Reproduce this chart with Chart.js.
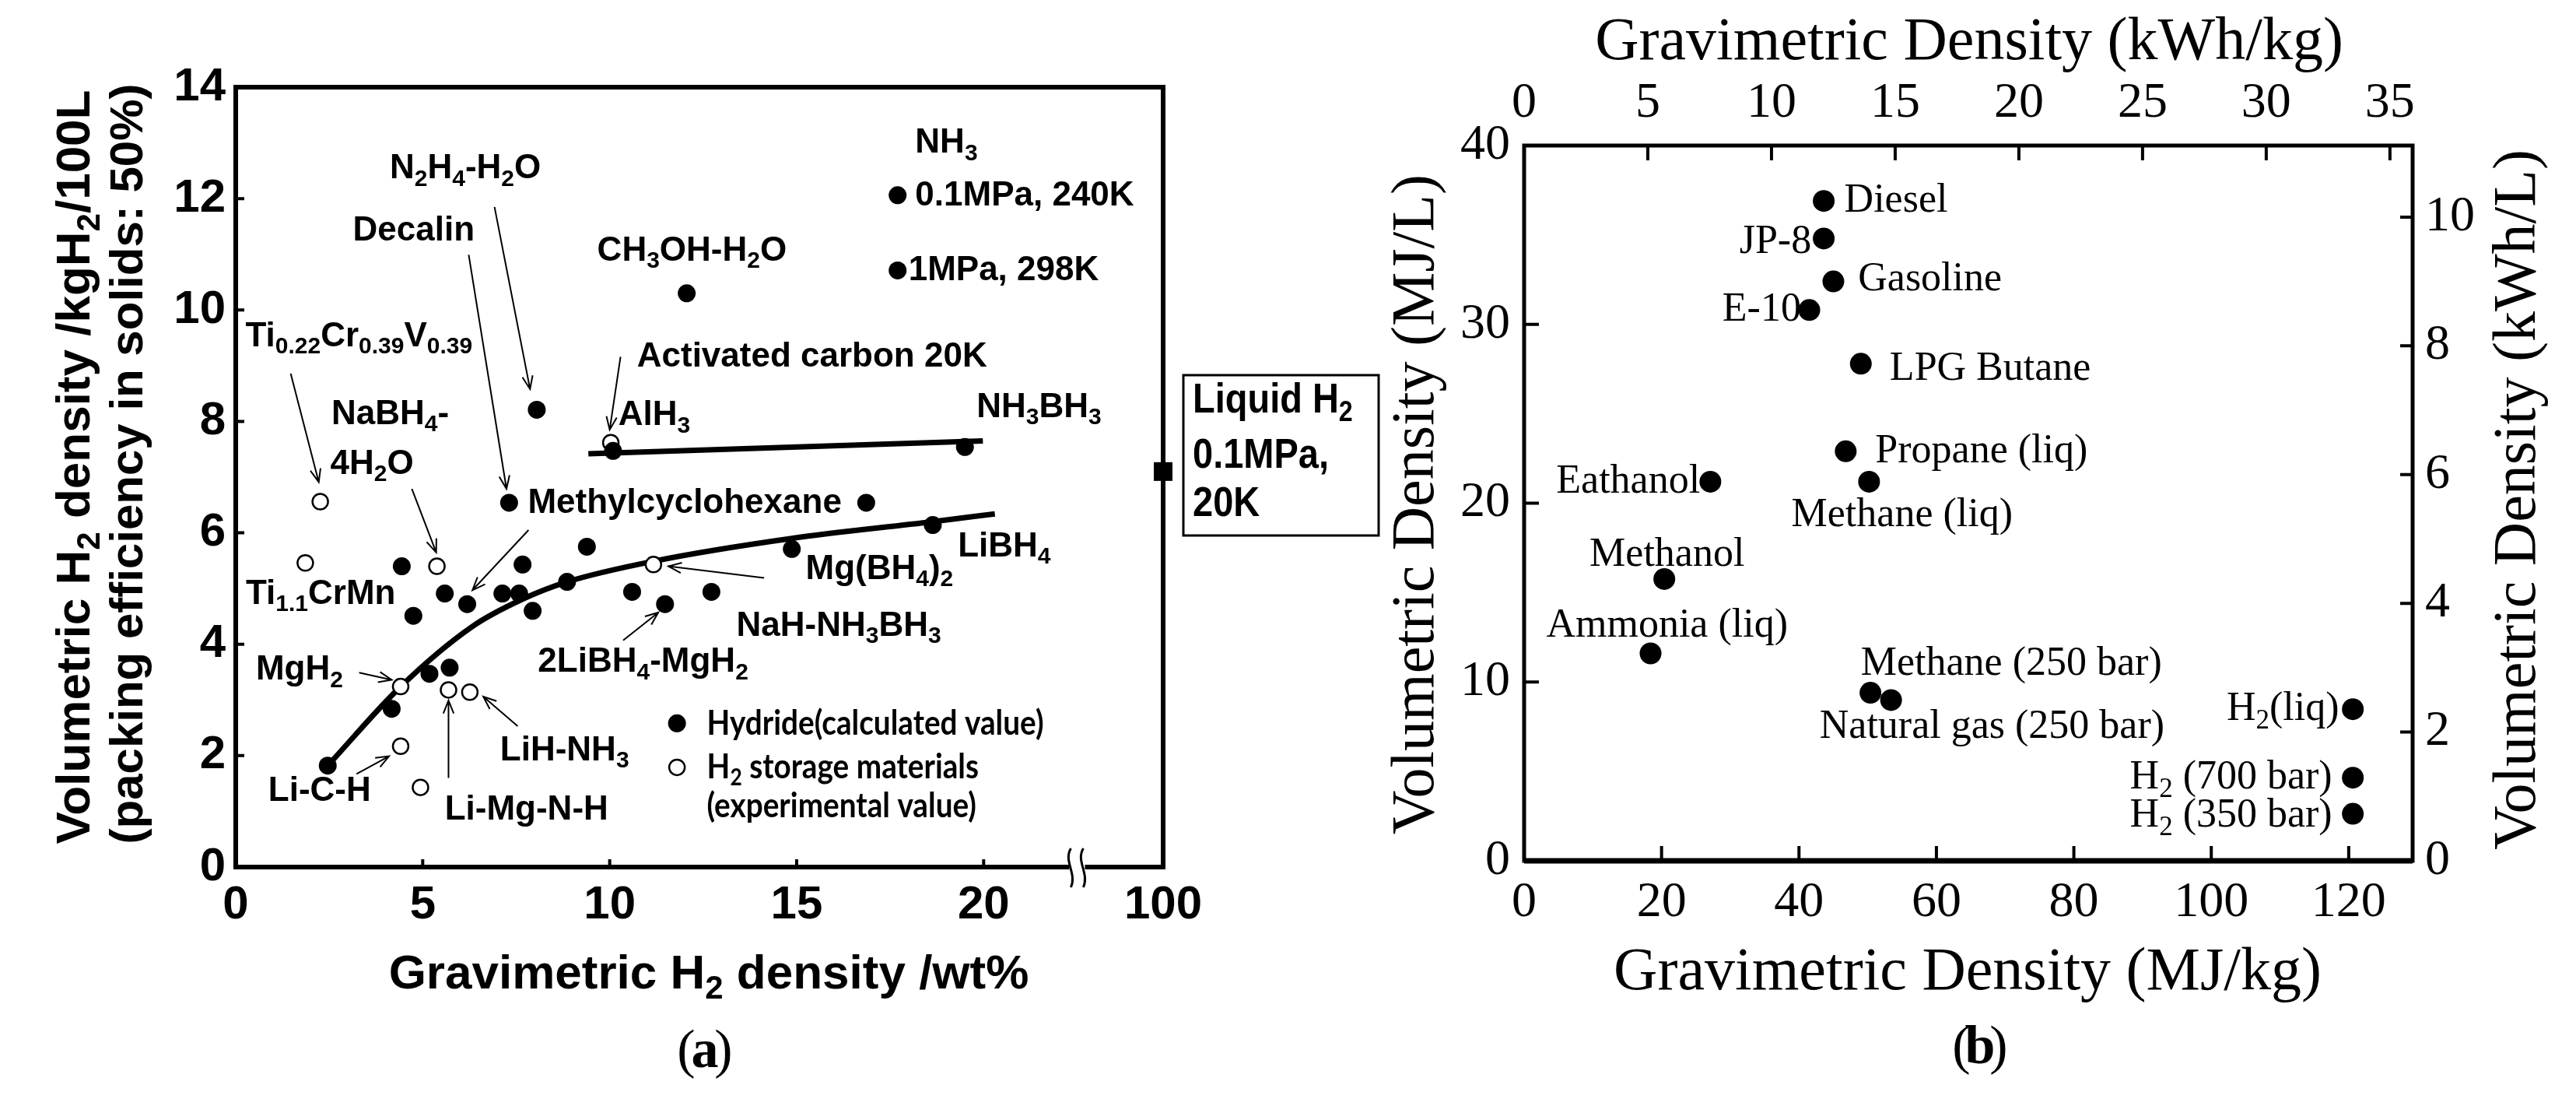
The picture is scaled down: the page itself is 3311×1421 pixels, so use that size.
<!DOCTYPE html>
<html>
<head>
<meta charset="utf-8">
<script src="https://cdn.jsdelivr.net/npm/chart.js@4.4.1/dist/chart.umd.min.js"></script>
<style>
  html, body { margin: 0; padding: 0; background: #fff; }
  body { width: 3311px; height: 1421px; position: relative; overflow: hidden; }
  #wrapA { position: absolute; left: 0; top: 0; width: 1790px; height: 1421px; }
  #wrapB { position: absolute; left: 1720px; top: 0; width: 1591px; height: 1421px; }
</style>
</head>
<body>
<div id="wrapA"><canvas id="chartA" width="1790" height="1421"></canvas></div>
<div id="wrapB"><canvas id="chartB" width="1591" height="1421"></canvas></div>
<script>
// ---- (a) hydrogen storage materials ----
// hydrides, calculated values (wt%, kgH2/100L)
const hydrideWt  = [2.46, 4.17, 5.18, 5.72, 4.44, 4.75, 5.59, 6.19, 7.13, 7.58, 7.67, 7.94, 8.86, 9.39,
                    7.31, 8.05, 10.09, 10.6, 11.48, 12.72, 14.87, 16.86, 18.64, 12.06, 17.7, 17.7, 19.5];
const hydrideVol = [1.82, 2.84, 3.47, 3.58, 5.40, 4.51, 4.91, 4.72, 4.91, 4.91, 5.43, 4.60, 5.12, 5.75,
                    6.54, 8.21, 7.47, 4.94, 4.72, 4.94, 5.71, 6.54, 6.14, 10.30, 12.06, 10.71, 7.54];
// H2 storage materials, experimental values
const storageWt  = [2.26, 1.86, 5.38, 4.41, 5.69, 6.26, 4.41, 4.94, 11.17, 10.03];
const storageVol = [6.56, 5.46, 5.40, 3.24, 3.18, 3.14, 2.17, 1.43, 5.43, 7.62];
// trend curve through the hydrides
const trendWt  = [2.46, 4.41, 6.33, 7.67, 8.86, 11.17, 14.87, 18.64, 20.3];
const trendVol = [1.82, 3.24, 4.32, 4.81, 5.12, 5.49, 5.90, 6.20, 6.34];
// AlH3 - NH3BH3 line
const nh3bh3Wt  = [9.43, 19.98];
const nh3bh3Vol = [7.42, 7.65];
// liquid hydrogen (beyond the axis break)
const liquidH2Wt  = [100];
const liquidH2Vol = [7.1];
const wtTicks  = [0, 5, 10, 15, 20, 100];
const volTicks = [0, 2, 4, 6, 8, 10, 12, 14];

// ---- (b) fuels ----
const fuelNames = ['Diesel', 'JP-8', 'Gasoline', 'E-10', 'LPG Butane', 'Propane (liq)', 'Eathanol',
                   'Methane (liq)', 'Methanol', 'Ammonia (liq)', 'Methane (250 bar)', 'Natural gas (250 bar)',
                   'H_2(liq)', 'H_2 (700 bar)', 'H_2 (350 bar)'];
const fuelMJkg = [43.6, 43.6, 45.0, 41.5, 49.0, 46.8, 27.1, 50.2, 20.4, 18.4, 50.4, 53.4, 120.6, 120.6, 120.6];
const fuelMJL  = [36.9, 34.8, 32.4, 30.8, 27.8, 22.9, 21.2, 21.2, 15.76, 11.6, 9.4, 8.99, 8.48, 4.65, 2.63];
const mjkgTicks  = [0, 20, 40, 60, 80, 100, 120];
const kwhkgTicks = [0, 5, 10, 15, 20, 25, 30, 35];
const mjlTicks   = [0, 10, 20, 30, 40];
const kwhlTicks  = [0, 2, 4, 6, 8, 10];

const SANS = 'Liberation Sans, Arial, Helvetica, sans-serif';
const SERIF = 'Liberation Serif, Times New Roman, serif';
const X_END = 24.8, BREAK_AT = 22.5;       // broken wt% axis: 100 sits at the right edge
const toAxis = wt => (wt > BREAK_AT ? X_END : wt);
const MJKG_MAX = 129.3, MJL_MAX = 40;

// label text, anchor (wt%, vol), alignment
const labelsA = [
  ['N_2H_4-H_2O', 6.14, 12.53, 'center'],
  ['Decalin', 4.76, 11.42, 'center'],
  ['CH_3OH-H_2O', 12.2, 11.06, 'center'],
  ['NH_3', 18.17, 12.99, 'left'],
  ['0.1MPa, 240K', 18.17, 12.05, 'left'],
  ['1MPa, 298K', 17.99, 10.71, 'left'],
  ['Ti_{0.22}Cr_{0.39}V_{0.39}', 0.26, 9.52, 'left'],
  ['Activated carbon 20K', 10.73, 9.16, 'left'],
  ['AlH_3', 10.23, 8.1, 'left'],
  ['NH_3BH_3', 19.81, 8.25, 'left'],
  ['NaBH_4-', 2.56, 8.12, 'left'],
  ['4H_2O', 2.53, 7.23, 'left'],
  ['Methylcyclohexane', 7.81, 6.53, 'left'],
  ['Ti_{1.1}CrMn', 0.27, 4.89, 'left'],
  ['MgH_2', 0.54, 3.53, 'left'],
  ['Li-C-H', 0.87, 1.36, 'left'],
  ['Li-Mg-N-H', 5.59, 1.02, 'left'],
  ['LiH-NH_3', 7.07, 2.09, 'left'],
  ['2LiBH_4-MgH_2', 8.08, 3.67, 'left'],
  ['NaH-NH_3BH_3', 13.39, 4.32, 'left'],
  ['Mg(BH_4)_2', 15.24, 5.34, 'left'],
  ['LiBH_4', 19.31, 5.75, 'left']
];
// arrows: from -> to (wt%, vol)
const arrowsA = [
  [6.92, 11.85, 7.87, 8.58],
  [6.23, 10.99, 7.24, 6.79],
  [1.47, 8.86, 2.22, 6.91],
  [10.29, 9.16, 10.0, 7.85],
  [4.71, 6.79, 5.36, 5.65],
  [7.83, 6.05, 6.33, 4.97],
  [3.3, 3.49, 4.17, 3.36],
  [3.23, 1.67, 4.1, 1.99],
  [5.69, 1.6, 5.69, 2.99],
  [7.54, 2.53, 6.62, 3.06],
  [10.36, 4.07, 11.3, 4.57],
  [14.13, 5.19, 11.57, 5.40]
];
// label placement for panel (b): anchor (MJ/kg, MJ/L), alignment
const labelPosB = [
  [46.6, 36.9, 'left'], [41.8, 34.6, 'right'], [48.6, 32.5, 'left'], [40.3, 30.8, 'right'],
  [53.2, 27.5, 'left'], [51.1, 22.9, 'left'], [25.6, 21.2, 'right'], [55.0, 19.3, 'center'],
  [20.8, 17.07, 'center'], [20.8, 13.13, 'center'], [49.0, 11.0, 'left'], [43.0, 7.47, 'left'],
  [118.6, 8.48, 'right'], [117.6, 4.65, 'right'], [117.6, 2.53, 'right']
];

// text with subscripts written as _x or _{xyz}
function parseRich(str) {
  const parts = [];
  const re = /_\{([^}]*)\}|_(.)|([^_]+)/g;
  let m;
  while ((m = re.exec(str))) {
    if (m[3] !== undefined) parts.push({ t: m[3], sub: false });
    else parts.push({ t: m[1] !== undefined ? m[1] : m[2], sub: true });
  }
  return parts;
}

function drawRich(ctx, str, x, y, o) {
  const parts = parseRich(str);
  const w8 = o.weight || 'normal';
  const big = `${w8} ${o.size}px ${o.family}`;
  const small = `${w8} ${Math.round(o.size * 0.68)}px ${o.family}`;
  let total = 0;
  parts.forEach(p => { ctx.font = p.sub ? small : big; p.w = ctx.measureText(p.t).width; total += p.w; });
  let cx = o.align === 'right' ? -total : o.align === 'center' ? -total / 2 : 0;
  ctx.save();
  ctx.translate(x, y);
  if (o.rotate) ctx.rotate(o.rotate);
  ctx.scale(o.hscale || 1, 1);
  ctx.fillStyle = '#000';
  ctx.textBaseline = 'middle';
  ctx.textAlign = 'left';
  parts.forEach(p => {
    ctx.font = p.sub ? small : big;
    ctx.fillText(p.t, cx, p.sub ? o.size * 0.3 : 0);
    cx += p.w;
  });
  ctx.restore();
}

function arrow(ctx, x1, y1, x2, y2) {
  const a = Math.atan2(y2 - y1, x2 - x1), h = 18, s = 0.38;
  ctx.beginPath();
  ctx.moveTo(x1, y1);
  ctx.lineTo(x2, y2);
  ctx.moveTo(x2 - h * Math.cos(a - s), y2 - h * Math.sin(a - s));
  ctx.lineTo(x2, y2);
  ctx.lineTo(x2 - h * Math.cos(a + s), y2 - h * Math.sin(a + s));
  ctx.stroke();
}

function innerTicks(ctx, scale, values, len, side) {
  const { left, right, top, bottom } = scale.chart.chartArea;
  ctx.beginPath();
  values.forEach(v => {
    const p = scale.getPixelForValue(v);
    if (side === 'left') { ctx.moveTo(left, p); ctx.lineTo(left + len, p); }
    if (side === 'right') { ctx.moveTo(right, p); ctx.lineTo(right - len, p); }
    if (side === 'top') { ctx.moveTo(p, top); ctx.lineTo(p, top + len); }
    if (side === 'bottom') { ctx.moveTo(p, bottom); ctx.lineTo(p, bottom - len); }
  });
  ctx.stroke();
}

function panelLetter(ctx, letter, x, y) {
  ctx.textAlign = 'center'; ctx.textBaseline = 'middle'; ctx.fillStyle = '#000';
  ctx.font = '70px ' + SERIF;
  ctx.fillText('(', x - 24, y);
  ctx.fillText(')', x + 24, y);
  ctx.font = 'bold 70px ' + SERIF;
  ctx.fillText(letter, x, y);
}

const panelA = {
  id: 'panelA',
  beforeDatasetsDraw(chart) {
    const { ctx, chartArea: a, scales: { x, y } } = chart;
    ctx.save();
    ctx.strokeStyle = '#000';
    ctx.lineWidth = 6;
    ctx.strokeRect(a.left, a.top, a.right - a.left, a.bottom - a.top);
    ctx.lineWidth = 4;
    innerTicks(ctx, y, volTicks.slice(1, -1), 11, 'left');
    innerTicks(ctx, x, wtTicks.slice(1, -1), 10, 'bottom');
    // axis break on the wt% axis
    const xb = x.getPixelForValue(BREAK_AT);
    ctx.fillStyle = '#fff';
    ctx.fillRect(xb - 10, a.bottom - 5, 20, 10);
    ctx.lineWidth = 3;
    [-8, 8].forEach(d => {
      ctx.beginPath();
      ctx.moveTo(xb + d, a.bottom - 24);
      ctx.bezierCurveTo(xb + d - 10, a.bottom - 8, xb + d + 8, a.bottom + 8, xb + d, a.bottom + 26);
      ctx.stroke();
    });
    ctx.restore();
  },
  afterDraw(chart) {
    const { ctx, scales: { x, y } } = chart;
    ctx.save();
    ctx.strokeStyle = '#000';
    ctx.lineWidth = 2;
    arrowsA.forEach(([x1, y1, x2, y2]) =>
      arrow(ctx, x.getPixelForValue(x1), y.getPixelForValue(y1), x.getPixelForValue(x2), y.getPixelForValue(y2)));
    labelsA.forEach(([t, lx, ly, al]) =>
      drawRich(ctx, t, x.getPixelForValue(lx), y.getPixelForValue(ly),
        { size: 44, family: SANS, weight: 'bold', align: al }));

    // legend
    const lx = x.getPixelForValue(11.8), tx = x.getPixelForValue(12.6);
    const ly = [2.58, 1.79, 1.09].map(v => y.getPixelForValue(v));
    ctx.fillStyle = '#000';
    ctx.beginPath(); ctx.arc(lx, ly[0], 11.5, 0, Math.PI * 2); ctx.fill();
    ctx.fillStyle = '#fff'; ctx.lineWidth = 2.5;
    ctx.beginPath(); ctx.arc(lx, ly[1], 10, 0, Math.PI * 2); ctx.fill(); ctx.stroke();
    const lg = { size: 44, family: 'Lato, ' + SANS, weight: 'bold', align: 'left', hscale: 0.88 };
    drawRich(ctx, 'Hydride(calculated value)', tx, ly[0], lg);
    drawRich(ctx, 'H_2 storage materials', tx, ly[1], lg);
    drawRich(ctx, '(experimental value)', tx, ly[2], lg);

    // liquid hydrogen box
    ctx.lineWidth = 3;
    ctx.strokeRect(1521, 482, 251, 206);
    const bx = { size: 54, family: SANS, weight: 'bold', align: 'left', hscale: 0.87 };
    drawRich(ctx, 'Liquid H_2', 1533, 515, bx);
    drawRich(ctx, '0.1MPa,', 1533, 586, bx);
    drawRich(ctx, '20K', 1533, 648, bx);

    // axis titles
    const tf = { size: 62, family: SANS, weight: 'bold', align: 'center' };
    drawRich(ctx, 'Gravimetric H_2 density /wt%', 911, 1253, tf);
    drawRich(ctx, 'Volumetric H_2 density /kgH_2/100L', 98, 600, { ...tf, rotate: -Math.PI / 2 });
    drawRich(ctx, '(packing efficiency in solids: 50%)', 166, 596, { ...tf, size: 60, rotate: -Math.PI / 2 });
    panelLetter(ctx, 'a', 906, 1353);
    ctx.restore();
  }
};

const panelB = {
  id: 'panelB',
  beforeDatasetsDraw(chart) {
    const { ctx, chartArea: a, scales } = chart;
    ctx.save();
    ctx.strokeStyle = '#000';
    ctx.lineWidth = 5;
    ctx.strokeRect(a.left, a.top, a.right - a.left, a.bottom - a.top);
    ctx.lineWidth = 7;
    ctx.beginPath(); ctx.moveTo(a.left, a.bottom); ctx.lineTo(a.right, a.bottom); ctx.stroke();
    ctx.lineWidth = 4;
    innerTicks(ctx, scales.x, mjkgTicks.slice(1), 19, 'bottom');
    innerTicks(ctx, scales.x2, kwhkgTicks.slice(1), 19, 'top');
    innerTicks(ctx, scales.y, mjlTicks.slice(1, -1), 19, 'left');
    innerTicks(ctx, scales.y2, kwhlTicks.slice(1), 16, 'right');
    ctx.restore();
  },
  afterDraw(chart) {
    const { ctx, scales: { x, y } } = chart;
    ctx.save();
    fuelNames.forEach((name, i) => {
      const [lx, ly, al] = labelPosB[i];
      drawRich(ctx, name, x.getPixelForValue(lx), y.getPixelForValue(ly), { size: 52, family: SERIF, align: al });
    });
    const tf = { size: 78, family: SERIF, align: 'center' };
    drawRich(ctx, 'Gravimetric Density (kWh/kg)', 811, 56, tf);
    drawRich(ctx, 'Gravimetric Density (MJ/kg)', 809, 1251, tf);
    drawRich(ctx, 'Volumetric Density (MJ/L)', 102, 648, { ...tf, rotate: -Math.PI / 2 });
    drawRich(ctx, 'Volumetric Density (kWh/L)', 1518, 642, { ...tf, rotate: -Math.PI / 2 });
    panelLetter(ctx, 'b', 825, 1348);
    ctx.restore();
  }
};

const pairs = (xs, ys, f = v => v) => xs.map((v, i) => ({ x: f(v), y: ys[i] }));
const tickFontA = { family: SANS, size: 60, weight: 'bold' };
const tickFontB = { family: SERIF, size: 64 };

new Chart(document.getElementById('chartA'), {
  type: 'scatter',
  data: {
    datasets: [
      { label: 'Hydride(calculated value)', data: pairs(hydrideWt, hydrideVol),
        pointRadius: 11.5, backgroundColor: '#000', borderWidth: 0, clip: false },
      { label: 'H2 storage materials', data: pairs(storageWt, storageVol),
        pointRadius: 10, backgroundColor: '#fff', borderColor: '#000', borderWidth: 2.5, clip: false },
      { label: 'Liquid H2', data: pairs(liquidH2Wt, liquidH2Vol, toAxis), pointStyle: 'rect',
        pointRadius: 17, backgroundColor: '#000', borderWidth: 0, clip: false },
      { label: 'trend', data: pairs(trendWt, trendVol), showLine: true, borderColor: '#000',
        borderWidth: 7, pointRadius: 0, cubicInterpolationMode: 'monotone', clip: false },
      { label: 'NH3BH3 line', data: pairs(nh3bh3Wt, nh3bh3Vol), showLine: true, borderColor: '#000',
        borderWidth: 7, pointRadius: 0, clip: false }
    ]
  },
  options: {
    responsive: false,
    animation: false,
    events: [],
    layout: { padding: { top: 112, right: 295, left: 0, bottom: 0 } },
    plugins: { legend: { display: false }, tooltip: { enabled: false } },
    scales: {
      x: {
        type: 'linear', min: 0, max: X_END,
        grid: { display: false, drawTicks: false }, border: { display: false },
        afterFit: s => { s.height = 307; },
        afterBuildTicks: s => { s.ticks = wtTicks.map(v => ({ value: toAxis(v) })); },
        ticks: { padding: 13, color: '#000', font: tickFontA, maxRotation: 0,
                 callback: (v, i) => String(wtTicks[i]) }
      },
      y: {
        type: 'linear', min: 0, max: 14,
        grid: { display: false, drawTicks: false }, border: { display: false },
        afterFit: s => { s.width = 303; },
        afterBuildTicks: s => { s.ticks = volTicks.map(v => ({ value: v })); },
        ticks: { padding: 13, color: '#000', font: tickFontA }
      }
    }
  },
  plugins: [panelA]
});

new Chart(document.getElementById('chartB'), {
  type: 'scatter',
  data: {
    datasets: [
      { label: 'Fuels', data: pairs(fuelMJkg, fuelMJL), pointRadius: 14,
        backgroundColor: '#000', borderWidth: 0, clip: false }
    ]
  },
  options: {
    responsive: false,
    animation: false,
    events: [],
    layout: { padding: 0 },
    plugins: { legend: { display: false }, tooltip: { enabled: false } },
    scales: {
      x: {
        type: 'linear', position: 'bottom', min: 0, max: MJKG_MAX,
        grid: { display: false, drawTicks: false }, border: { display: false },
        afterFit: s => { s.height = 315; },
        afterBuildTicks: s => { s.ticks = mjkgTicks.map(v => ({ value: v })); },
        ticks: { padding: 16, color: '#000', font: tickFontB, maxRotation: 0 }
      },
      x2: {
        type: 'linear', axis: 'x', position: 'top', min: 0, max: MJKG_MAX / 3.6,
        grid: { display: false, drawTicks: false }, border: { display: false },
        afterFit: s => { s.height = 187; },
        afterBuildTicks: s => { s.ticks = kwhkgTicks.map(v => ({ value: v })); },
        ticks: { padding: 15, color: '#000', font: tickFontB, maxRotation: 0 }
      },
      y: {
        type: 'linear', position: 'left', min: 0, max: MJL_MAX,
        grid: { display: false, drawTicks: false }, border: { display: false },
        afterFit: s => { s.width = 239; },
        afterBuildTicks: s => { s.ticks = mjlTicks.map(v => ({ value: v })); },
        ticks: { padding: 18, color: '#000', font: tickFontB }
      },
      y2: {
        type: 'linear', axis: 'y', position: 'right', min: 0, max: MJL_MAX / 3.6,
        grid: { display: false, drawTicks: false }, border: { display: false },
        afterFit: s => { s.width = 210; },
        afterBuildTicks: s => { s.ticks = kwhlTicks.map(v => ({ value: v })); },
        ticks: { padding: 16, color: '#000', font: tickFontB }
      }
    }
  },
  plugins: [panelB]
});
</script>
</body>
</html>
